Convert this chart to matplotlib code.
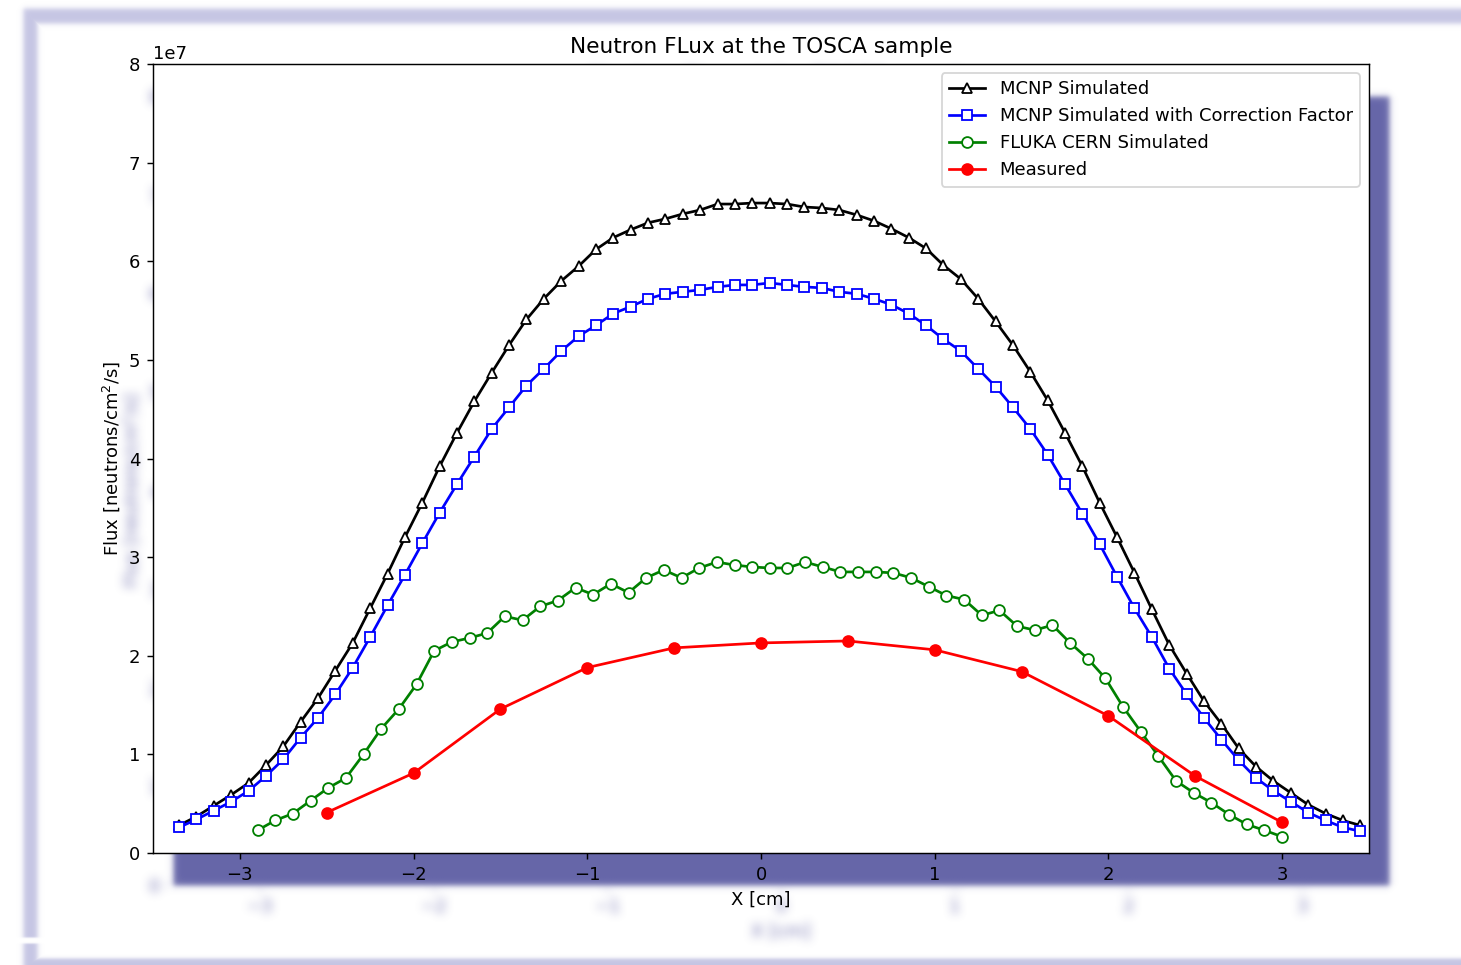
import numpy as np
import matplotlib
matplotlib.use("Agg")
import matplotlib.pyplot as plt

# ---------------- data (flux in units of 1e7 neutrons/cm^2/s) ----------------
x_mcnp = np.round(np.arange(-3.35, 3.46, 0.1), 2)  # 69 sample positions [cm]

mcnp = [0.28, 0.37, 0.48, 0.59, 0.71, 0.89, 1.08, 1.33, 1.57, 1.85,
        2.13, 2.48, 2.83, 3.20, 3.55, 3.92, 4.26,
        4.58, 4.87, 5.15, 5.41, 5.62, 5.80, 5.95, 6.12, 6.24, 6.32,
        6.39, 6.43, 6.48, 6.52, 6.58, 6.58, 6.59,
        6.59, 6.58, 6.55, 6.54, 6.52, 6.47, 6.41, 6.33, 6.24, 6.13,
        5.96, 5.82, 5.62, 5.39, 5.15, 4.88, 4.59,
        4.26, 3.92, 3.55, 3.20, 2.84, 2.47, 2.11, 1.82, 1.54, 1.31, 1.06,
        0.875, 0.73, 0.61, 0.49, 0.40, 0.33, 0.28]

mcnp_corr = [0.26, 0.34, 0.43, 0.52, 0.63, 0.78, 0.95, 1.17, 1.37, 1.61,
             1.88, 2.19, 2.51, 2.82, 3.14, 3.45, 3.74,
             4.02, 4.30, 4.52, 4.74, 4.91, 5.09, 5.24, 5.35, 5.47, 5.54,
             5.62, 5.67, 5.69, 5.71, 5.74, 5.76, 5.76,
             5.78, 5.76, 5.74, 5.73, 5.69, 5.67, 5.62, 5.56, 5.47, 5.35,
             5.21, 5.09, 4.91, 4.73, 4.52, 4.30, 4.04,
             3.74, 3.44, 3.13, 2.80, 2.48, 2.19, 1.87, 1.61, 1.37, 1.15, 0.94,
             0.76, 0.63, 0.52, 0.41, 0.33, 0.26, 0.22]

x_fluka = np.linspace(-3, 3, 60)[1:]  # 59 sample positions [cm]
fluka = [0.23, 0.33, 0.40, 0.53, 0.66, 0.76, 1.00, 1.26, 1.46, 1.71,
         2.05, 2.14, 2.18, 2.23, 2.40, 2.36, 2.50, 2.56, 2.69, 2.62,
         2.73, 2.64, 2.79, 2.87, 2.79, 2.89, 2.95, 2.92, 2.90,
         2.89, 2.89, 2.95, 2.90, 2.85, 2.85, 2.85, 2.84, 2.79, 2.70,
         2.61, 2.57, 2.41, 2.46, 2.30, 2.26, 2.31, 2.13, 1.97, 1.77,
         1.48, 1.23, 0.98, 0.73, 0.61, 0.51, 0.39, 0.29, 0.23, 0.165]

x_meas = [-2.5, -2.0, -1.5, -1.0, -0.5, 0.0, 0.5, 1.0, 1.5, 2.0, 2.5, 3.0]
measured = [0.41, 0.81, 1.46, 1.88, 2.08, 2.13, 2.15, 2.06, 1.84, 1.39, 0.78, 0.31]

SCALE = 1e7
x_ticks = [-3, -2, -1, 0, 1, 2, 3]
y_ticks = [0, 1, 2, 3, 4, 5, 6, 7, 8]

# ---------------- figure ----------------
W, H, DPI = 1461, 965, 130
fig = plt.figure(figsize=(W / DPI, H / DPI), dpi=DPI, facecolor="white")
ax = fig.add_axes([153 / W, (H - 853) / H, (1369 - 153) / W, (853 - 64) / H])

ax.plot(x_mcnp, np.array(mcnp) * SCALE, color="black", marker="^", mfc="white",
        label="MCNP Simulated")
ax.plot(x_mcnp, np.array(mcnp_corr) * SCALE, color="blue", marker="s", mfc="white",
        label="MCNP Simulated with Correction Factor")
ax.plot(x_fluka, np.array(fluka) * SCALE, color="green", marker="o", mfc="white",
        label="FLUKA CERN Simulated")
ax.plot(x_meas, np.array(measured) * SCALE, color="red", marker="o",
        label="Measured")

ax.set_xlim(-3.5, 3.5)
ax.set_ylim(0, 8 * SCALE)
ax.set_xticks(x_ticks)
ax.set_yticks(np.array(y_ticks) * SCALE)
ax.set_title("Neutron FLux at the TOSCA sample")
ax.set_xlabel("X [cm]")
ax.set_ylabel("Flux [neutrons/cm$^2$/s]")
ax.legend(loc="upper right")

# ---------------- drop-shadow decoration ----------------
def band(c, lo, hi, s):
    return 0.5 * (np.tanh((c - lo) / s) - np.tanh((c - hi) / s))

def box_blur(a, r, axis):
    a = np.moveaxis(a, axis, -1)
    pad = np.pad(a, [(0, 0)] * (a.ndim - 1) + [(r + 1, r)], mode="constant")
    cs = np.cumsum(pad, axis=-1)
    out = (cs[..., 2 * r + 1:] - cs[..., :-2 * r - 1]) / (2 * r + 1)
    return np.moveaxis(out, -1, axis)

def blur(a, r=4, passes=3):
    for _ in range(passes):
        a = box_blur(a, r, 0)
        a = box_blur(a, r, 1)
    return a

pos = ax.get_position()
dx, dy = 20, 32
px_l, px_r = pos.x0 * W, pos.x1 * W
px_t, px_b = (1 - pos.y1) * H, (1 - pos.y0) * H

# ghost of the outer texts: render once, take the ink outside the axes
fig.canvas.draw()
buf = np.asarray(fig.canvas.buffer_rgba()).astype(float) / 255.0
ink = 1.0 - buf[..., :3].mean(axis=2)
yy, xx = np.mgrid[0:H, 0:W].astype(float)
inside = (xx >= px_l - 2) & (xx <= px_r + 2) & (yy >= px_t - 2) & (yy <= px_b + 2)
ink[inside] = 0.0
ghost = np.zeros_like(ink)
ghost[dy:, dx:] = ink[:H - dy, :W - dx]
a_ghost = np.clip(blur(ghost, 4, 3) * 0.9, 0, 0.35)

a_dark = band(xx, px_l + dx, px_r + dx, 3.5) * band(yy, px_t + dy, px_b + dy, 3.5)

top_band = band(xx, 23, W + 50, 3) * band(yy, 8, 23, 3)
left_band = band(xx, 23, 37, 3) * band(yy, 8, H + 50, 3)
left_band *= 1 - band(yy, 937, 943, 1) * band(xx, 0, 45, 1)
bot_band = band(xx, 23, W + 50, 3) * band(yy, 958, H + 20, 2)
a_band = np.clip(np.maximum(np.maximum(top_band, left_band), bot_band), 0, 1) * 0.55

dark_rgb = np.array([101, 101, 168]) / 255.0
band_rgb = np.array([150, 150, 205]) / 255.0

# composite: dark rect over ghost over frame band
a_low = a_ghost + a_band * (1 - a_ghost)
c_low = (dark_rgb[None, None, :] * a_ghost[..., None]
         + band_rgb[None, None, :] * (a_band * (1 - a_ghost))[..., None])
A = a_dark + a_low * (1 - a_dark)
C = dark_rgb[None, None, :] * a_dark[..., None] + c_low * (1 - a_dark)[..., None]
rgb = np.where(A[..., None] > 1e-6, C / np.maximum(A[..., None], 1e-6), 1.0)
img = np.clip(np.dstack([rgb, A]), 0, 1)
fig.figimage(img, xo=0, yo=0, origin="upper", zorder=-2, resize=False)

fig.savefig("out.png", dpi=DPI, facecolor="white")
